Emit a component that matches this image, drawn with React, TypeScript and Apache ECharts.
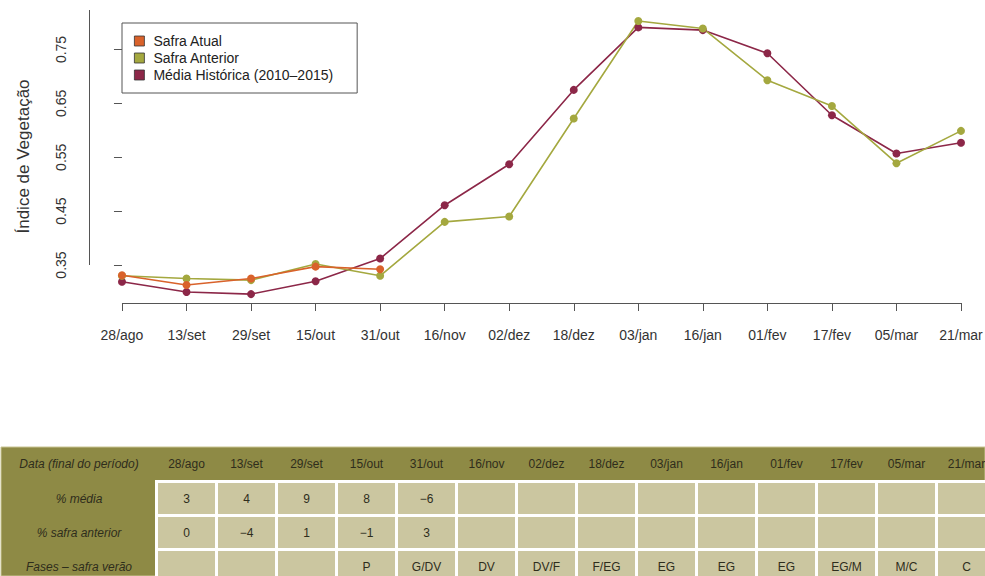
import React, { useEffect, useRef } from "react";
import * as echarts from "echarts";

// ---------- data ----------
const categories = ["28/ago", "13/set", "29/set", "15/out", "31/out", "16/nov", "02/dez", "18/dez", "03/jan", "16/jan", "01/fev", "17/fev", "05/mar", "21/mar"];
const safraAtual = [0.331, 0.313, 0.325, 0.347, 0.342];
const safraAnterior = [0.330, 0.325, 0.322, 0.352, 0.330, 0.430, 0.440, 0.622, 0.803, 0.789, 0.693, 0.645, 0.539, 0.599];
const mediaHistorica = [0.319, 0.300, 0.296, 0.320, 0.362, 0.461, 0.537, 0.675, 0.791, 0.786, 0.743, 0.628, 0.557, 0.577];
const yTicks = [0.35, 0.45, 0.55, 0.65, 0.75];
const seriesNames = ["Safra Atual", "Safra Anterior", "Média Histórica (2010–2015)"];

const tableRowLabels = ["Data (final do período)", "% média", "% safra anterior", "Fases – safra verão"];
const pctMedia = ["3", "4", "9", "8", "−6", "", "", "", "", "", "", "", "", ""];
const pctSafraAnterior = ["0", "−4", "1", "−1", "3", "", "", "", "", "", "", "", "", ""];
const fases = ["", "", "", "P", "G/DV", "DV", "DV/F", "F/EG", "EG", "EG", "EG", "EG/M", "M/C", "C"];

// ---------- style ----------
const FONT = "'Liberation Sans', Arial, Helvetica, sans-serif";
const C_ATUAL = "#D9622B";
const C_ANTERIOR = "#A4A83F";
const C_MEDIA = "#8C2748";
const OLIVE = "#8E8A45";
const BEIGE = "#CBC6A0";
const TXT = "#2E2D1C";

const X_MIN = -0.5;
const X_MAX = 13.372;
const Y_MIN = 0.2795;
const Y_MAX = 0.8233;

function buildTable() {
  const els: any[] = [];
  const top = 447;
  const headerH = 33;
  const labelW = 155;
  const colW = 60;
  const gap = 3;
  const rowTop0 = 483;
  const rowPitch = 34;
  const cellH = 31;
  els.push({ type: "rect", shape: { x: 1, y: top, width: 984, height: 576 - top }, style: { fill: OLIVE, stroke: "#C9C493", lineWidth: 1 } });
  els.push({ type: "rect", shape: { x: labelW, y: top + headerH, width: 985 - labelW, height: 576 - top - headerH }, style: { fill: "#ffffff" } });
  const rows = [pctMedia, pctSafraAnterior, fases];
  const font = (italic: boolean) => `${italic ? "italic " : ""}12px ${FONT}`;
  const txt = (text: string, x: number, y: number, italic: boolean) => ({
    type: "text",
    style: { text, x, y, align: "center", verticalAlign: "middle", textAlign: "center", textVerticalAlign: "middle", font: font(italic), fill: TXT },
  });
  // header
  els.push(txt(tableRowLabels[0], 79, top + headerH / 2, true));
  categories.forEach((c, j) => {
    els.push(txt(c, labelW + j * colW + gap + (colW - gap) / 2, top + headerH / 2, false));
  });
  rows.forEach((row, i) => {
    const y0 = rowTop0 + i * rowPitch;
    els.push(txt(tableRowLabels[i + 1], 79, y0 + cellH / 2, true));
    row.forEach((v, j) => {
      const x0 = labelW + j * colW + gap;
      els.push({ type: "rect", shape: { x: x0, y: y0, width: colW - gap, height: cellH }, style: { fill: BEIGE } });
      if (v) els.push(txt(v, x0 + (colW - gap) / 2, y0 + cellH / 2, false));
    });
  });
  return els;
}

export default function App() {
  const ref = useRef<HTMLDivElement>(null);
  useEffect(() => {
    if (!ref.current) return;
    const chart = echarts.init(ref.current, undefined, { renderer: "svg" });
    const xIdx = categories.map((_, i) => i);
    const lineSeries = (name: string, vals: number[], color: string, extra: any = {}) => ({
      name,
      type: "line",
      data: vals.map((v, i) => [i, v]),
      symbol: "circle",
      symbolSize: 8,
      itemStyle: { color },
      lineStyle: { color, width: 1.6 },
      emphasis: { disabled: true },
      ...extra,
    });
    chart.setOption({
      animation: false,
      backgroundColor: "#ffffff",
      textStyle: { fontFamily: FONT },
      grid: { left: 89.7, right: 0, top: 10, bottom: 273, containLabel: false, outerBoundsMode: "none" },
      legend: {
        orient: "vertical",
        left: 122,
        top: 23,
        data: seriesNames,
        icon: "rect",
        itemWidth: 10,
        itemHeight: 10,
        itemGap: 3,
        padding: [11, 24, 11, 12],
        borderColor: "#555",
        borderWidth: 1,
        backgroundColor: "#ffffff",
        itemStyle: { borderColor: "#333", borderWidth: 0.8 },
        textStyle: { fontSize: 14, color: "#222", fontFamily: FONT, padding: [0, 0, 0, 4] },
      },
      xAxis: {
        type: "value",
        min: X_MIN,
        max: X_MAX,
        axisLine: { show: false },
        splitLine: { show: false },
        axisTick: { show: true, customValues: xIdx, length: 8, lineStyle: { color: "#555" } },
        axisLabel: { customValues: xIdx, formatter: (v: number) => categories[Math.round(v)] ?? "", margin: 25, fontSize: 14, color: "#333", fontFamily: FONT, hideOverlap: false },
      },
      yAxis: {
        type: "value",
        min: Y_MIN,
        max: Y_MAX,
        axisLine: { show: false },
        splitLine: { show: false },
        axisTick: { show: true, customValues: yTicks, length: 8, lineStyle: { color: "#555" } },
        axisLabel: { customValues: yTicks, rotate: 90, margin: 22, fontSize: 14, color: "#333", fontFamily: FONT, formatter: (v: number) => v.toFixed(2) },
        name: "Índice de Vegetação",
        nameLocation: "middle",
        nameRotate: 90,
        nameGap: 58,
        nameTextStyle: { fontSize: 17, color: "#333", fontFamily: FONT },
      },
      series: [
        lineSeries(seriesNames[2], mediaHistorica, C_MEDIA, {
          markLine: {
            silent: true,
            symbol: ["none", "none"],
            label: { show: false },
            emphasis: { disabled: true },
            lineStyle: { color: "#555", width: 1, type: "solid" },
            data: [
              [{ coord: [0, Y_MIN] }, { coord: [categories.length - 1, Y_MIN] }],
              [{ coord: [X_MIN, yTicks[0]] }, { coord: [X_MIN, Y_MAX] }],
            ],
          },
        }),
        lineSeries(seriesNames[1], safraAnterior, C_ANTERIOR),
        lineSeries(seriesNames[0], safraAtual, C_ATUAL),
      ],
      graphic: { elements: buildTable() },
    });
    return () => chart.dispose();
  }, []);
  return <div ref={ref} style={{ position: "absolute", left: 0, top: 0, width: 985, height: 576 }} />;
}
